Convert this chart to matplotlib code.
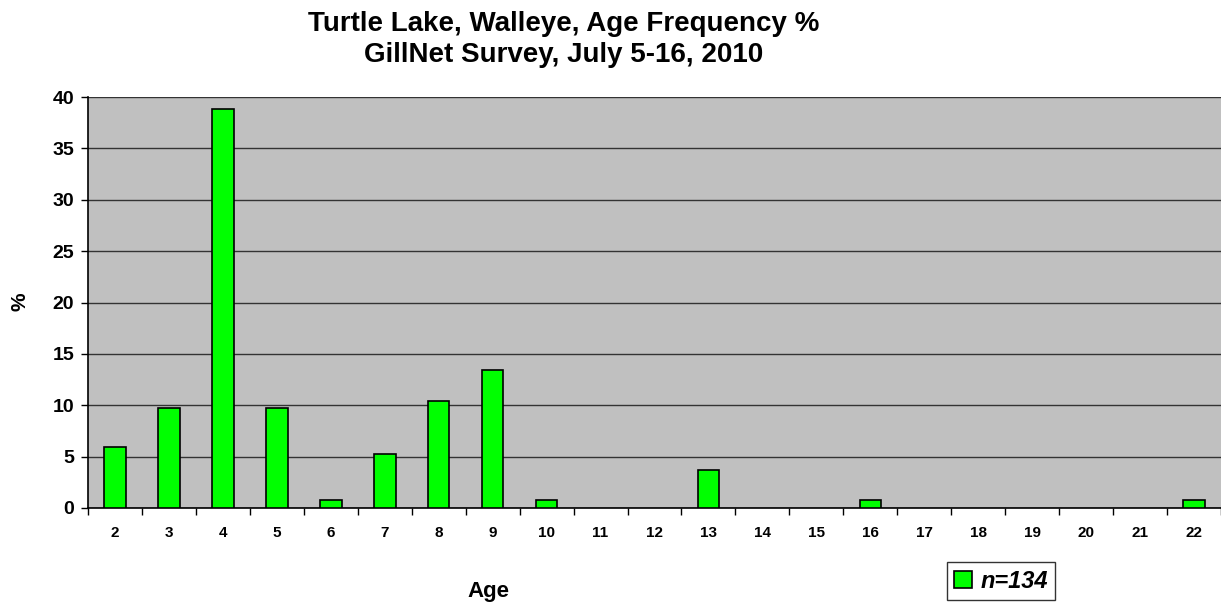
import matplotlib
matplotlib.use("Agg")
import matplotlib.pyplot as plt
import numpy as np

ages = [str(a) for a in range(2, 23)]
percent = [5.97, 9.70, 38.81, 9.70, 0.75, 5.22, 10.45, 13.43, 0.75, 0, 0, 3.73,
           0, 0, 0.75, 0, 0, 0, 0, 0, 0.75]
yticks = [0, 5, 10, 15, 20, 25, 30, 35, 40]

plt.rcParams['font.family'] = ['Liberation Sans', 'DejaVu Sans']

W, H = 1221, 607
fig = plt.figure(figsize=(W / 100, H / 100), dpi=100)
ax = fig.add_axes([88 / W, 1 - 508 / H, 1 - 88 / W, (508 - 97) / H])

x = np.arange(len(ages))
ax.set_facecolor('#c0c0c0')
bars = ax.bar(x, percent, width=0.4, color='#00ff00', edgecolor='black',
              linewidth=1.2, zorder=3, label='n=134')
# empty age classes get no outline along the baseline
for rect, v in zip(bars, percent):
    if v == 0:
        rect.set_linewidth(0)

ax.set_xlim(-0.5, len(ages) - 0.5)
ax.set_ylim(0, 40)
ax.set_yticks(yticks)
ax.set_yticklabels([str(t) for t in yticks], fontsize=14, fontweight='bold')
ax.yaxis.grid(True, color='#333333', linewidth=1.0, zorder=1)
ax.set_axisbelow(True)

ax.set_xticks(x)
ax.set_xticklabels(ages, fontsize=11, fontweight='bold')
ax.set_xticks(np.arange(-0.5, len(ages)), minor=True)
ax.tick_params(axis='x', which='major', length=0, pad=13)
ax.tick_params(axis='x', which='minor', length=5, width=1, direction='out')
ax.tick_params(axis='y', length=5, width=1, direction='out', pad=5)

for side in ['top', 'right']:
    ax.spines[side].set_visible(False)
ax.spines['left'].set_linewidth(1.2)
ax.spines['bottom'].set_linewidth(1.2)

fig.text(564 / W, 1 - 24 / H, 'Turtle Lake, Walleye, Age Frequency %',
         ha='center', va='center', fontsize=20, fontweight='bold')
fig.text(564 / W, 1 - 55 / H, 'GillNet Survey, July 5-16, 2010',
         ha='center', va='center', fontsize=20, fontweight='bold')

fig.text(488 / W, 1 - 591 / H, 'Age', ha='center', va='center',
         fontsize=16, fontweight='bold')
fig.text(20 / W, 1 - 302 / H, '%', ha='center', va='center',
         fontsize=15, fontweight='bold', rotation=90)

leg = fig.legend(handles=[bars], labels=['n=134'], loc='center',
                 bbox_to_anchor=(1001 / W, 1 - 581 / H),
                 prop={'weight': 'bold', 'style': 'italic', 'size': 17},
                 frameon=True, fancybox=False, edgecolor='black',
                 handlelength=0.75, handleheight=0.75, handletextpad=0.35,
                 borderpad=0.3, borderaxespad=0)
leg.get_frame().set_linewidth(1.0)

fig.savefig('out.png', dpi=100)
